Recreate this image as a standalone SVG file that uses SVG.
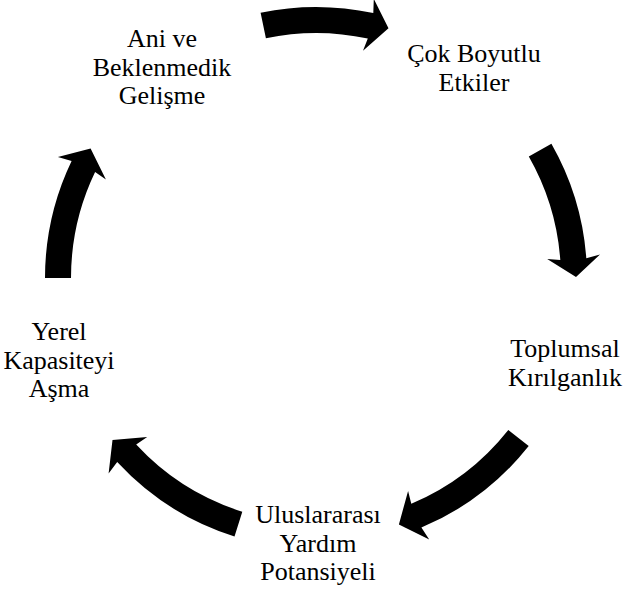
<svg xmlns="http://www.w3.org/2000/svg" width="628" height="589" viewBox="0 0 628 589">
  <style>
    .lbl { font-family: "Liberation Serif", "Times New Roman", serif; font-size: 26px; fill: #000; text-anchor: middle; }
    .arrow { fill: #000; stroke: none; }
  </style>
  <rect width="628" height="589" fill="#fff"/>

  <!-- curved cycle arrows, centre (316,278), band radii 245..271 -->
  <g id="connectors">
    <path class="arrow" d="M 260.6 12.7 A 271 271 0 0 1 373.3 13.1 L 373.8 -1.1 L 388.5 28.3 L 363 50.8 L 367.8 38.5 A 245 245 0 0 0 265.9 38.2 Z"/>
    <path class="arrow" d="M 551.4 143.7 A 271 271 0 0 1 586.3 258.2 L 600 254.6 L 576 277.1 L 547.2 259 L 560.3 260.1 A 245 245 0 0 0 528.8 156.6 Z"/>
    <path class="arrow" d="M 528.7 446 A 271 271 0 0 1 421.4 527.6 L 429.2 539.6 L 398.9 524.4 L 408.1 490.9 L 411.3 503.7 A 245 245 0 0 0 508.3 429.9 Z"/>
    <path class="arrow" d="M 234.5 536.5 A 271 271 0 0 1 117.2 462.1 L 108.6 473.5 L 112.5 439.9 L 147.2 437.1 L 136.2 444.5 A 245 245 0 0 0 242.3 511.7 Z"/>
    <path class="arrow" d="M 45 278 A 271 271 0 0 1 71.6 160.9 L 57.9 157.1 L 90.6 148.4 L 105.9 179.6 L 95.1 172.1 A 245 245 0 0 0 71 278 Z"/>
  </g>

  <g id="node-ani">
    <text class="lbl" x="162" y="47">Ani ve</text>
    <text class="lbl" x="162" y="75.5">Beklenmedik</text>
    <text class="lbl" x="162" y="104">Gelişme</text>
  </g>
  <g id="node-cok">
    <text class="lbl" x="474" y="62">Çok Boyutlu</text>
    <text class="lbl" x="474" y="90.5">Etkiler</text>
  </g>
  <g id="node-toplumsal">
    <text class="lbl" x="565" y="357">Toplumsal</text>
    <text class="lbl" x="565" y="385.5">Kırılganlık</text>
  </g>
  <g id="node-uluslararasi">
    <text class="lbl" x="318" y="523">Uluslararası</text>
    <text class="lbl" x="318" y="551.5">Yardım</text>
    <text class="lbl" x="318" y="580">Potansiyeli</text>
  </g>
  <g id="node-yerel">
    <text class="lbl" x="59" y="340">Yerel</text>
    <text class="lbl" x="59" y="368.5">Kapasiteyi</text>
    <text class="lbl" x="59" y="397">Aşma</text>
  </g>
</svg>
